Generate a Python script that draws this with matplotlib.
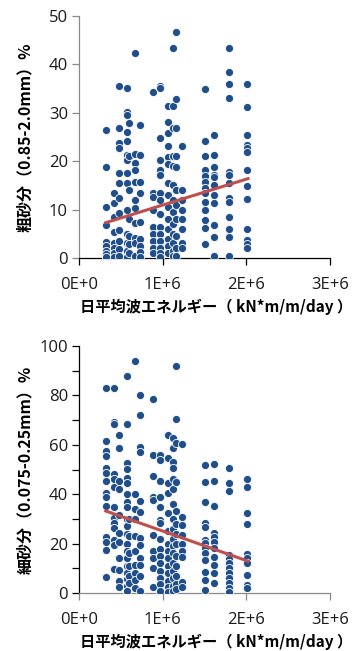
import numpy as np
import matplotlib
matplotlib.use("Agg")
import matplotlib.pyplot as plt
from matplotlib.ticker import MultipleLocator, FuncFormatter

# station positions (daily mean wave energy, kN*m/m/day)
X_COLS = [3.2e5, 4.2e5, 4.8e5, 5.7e5, 6.0e5, 6.7e5, 7.3e5, 8.8e5, 9.7e5,
          1.06e6, 1.12e6, 1.16e6, 1.23e6, 1.51e6, 1.61e6, 1.79e6, 2.01e6]

# coarse sand fraction (0.85-2.0 mm) per station
COARSE = [
    [26.4, 18.8, 10.5, 6.8, 3.3, 2.4, 1.5, 0.8, 0.3],
    [13.4, 11.4, 8.5, 5.4, 3.2, 2.0, 1.0, 0.3],
    [35.5, 26.9, 23.8, 22.7, 17.6, 15.5, 12.4, 9.3, 5.8, 3.5, 1.8, 0.5],
    [35.1, 30.2, 29.5, 26.0, 24.2, 21.3, 20.3, 17.6, 15.5, 9.9, 5.0, 3.0, 1.5, 0.2],
    [27.9, 21.0, 14.0, 8.0, 4.5, 2.8, 1.0],
    [42.4, 21.5, 19.6, 18.2, 15.7, 12.0, 10.3, 7.2, 4.1, 3.1, 0.4],
    [27.5, 21.2, 15.7, 13.4, 7.5, 4.0, 2.5, 1.2, 0.3],
    [34.3, 13.4, 12.5, 9.9, 6.4, 5.0, 3.5, 2.0, 1.0],
    [35.6, 35.1, 24.8, 20.2, 18.2, 17.1, 13.4, 12.0, 9.0, 6.5, 5.0, 3.5, 2.0, 1.0, 0.2],
    [31.4, 28.1, 25.8, 23.1, 20.9, 19.5, 15.5, 13.0, 10.5, 8.0, 6.0, 4.0, 2.5, 1.0],
    [43.4, 31.4, 26.9, 21.0, 19.0, 15.0, 12.0, 9.5, 7.0, 5.0, 3.0, 1.5, 0.4],
    [46.7, 32.9, 26.9, 21.0, 18.7, 14.0, 11.0, 8.0, 4.5, 2.0, 0.5],
    [23.1, 14.0, 12.0, 10.0, 8.0, 6.0, 3.0, 2.0],
    [34.9, 24.2, 21.1, 18.2, 17.0, 15.7, 14.5, 13.4, 11.6, 9.9, 7.9, 6.2, 2.9],
    [25.4, 21.3, 18.8, 17.1, 16.7, 15.1, 13.0, 11.4, 6.8, 4.3, 0.4],
    [43.4, 38.4, 35.9, 33.0, 17.8, 17.1, 15.5, 12.4, 11.5, 8.5, 6.0, 4.3, 0.4],
    [35.9, 31.2, 25.4, 23.3, 22.7, 21.9, 18.2, 14.9, 12.2, 6.0, 3.7, 2.9, 2.1],
]

# fine sand fraction (0.075-0.25 mm) per station
FINE = [
    [83.0, 61.6, 57.5, 55.5, 50.6, 48.6, 45.4, 40.5, 38.9, 35.2, 22.7, 20.7, 17.4, 6.5],
    [83.0, 69.3, 68.4, 48.2, 46.2, 43.0, 34.8, 30.4, 28.4, 26.3, 21.5, 19.4, 9.7],
    [64.0, 58.7, 45.4, 42.0, 31.6, 24.3, 20.7, 14.2, 9.3, 5.0, 2.4],
    [87.9, 68.4, 52.6, 50.2, 46.6, 44.5, 40.0, 37.0, 34.8, 30.0, 27.0, 24.0, 20.0,
     17.0, 14.0, 11.0, 8.0, 5.5, 3.0, 1.0],
    [30.0, 23.0, 16.0, 11.0, 7.0, 4.0],
    [94.0, 40.0, 34.0, 30.0, 23.0, 17.0, 11.3, 8.0, 5.3, 2.0],
    [80.2, 72.1, 59.1, 57.1, 37.3, 32.8, 22.3, 19.4, 14.0, 11.3, 7.0, 1.0],
    [78.6, 55.9, 47.4, 38.9, 37.7, 23.5, 17.0, 14.0, 10.0, 2.4],
    [55.9, 53.9, 45.4, 38.9, 34.8, 29.6, 28.4, 22.0, 18.0, 15.0, 12.0, 9.0, 6.0, 3.5, 1.0],
    [64.0, 54.7, 44.5, 40.5, 32.4, 25.0, 20.0, 17.0, 14.0, 11.0, 8.0, 5.0, 2.5, 0.5],
    [62.8, 58.7, 53.1, 50.6, 46.2, 42.0, 36.0, 30.0, 26.0, 22.0, 19.0, 16.0, 12.0,
     9.0, 6.0, 3.0, 1.0],
    [92.0, 70.5, 60.8, 45.0, 33.0, 28.0, 24.0, 20.0, 15.0, 11.0, 7.0, 3.5, 1.5],
    [60.3, 30.8, 27.5, 23.5, 20.0, 17.0, 14.6, 4.5, 2.4],
    [51.8, 45.0, 36.9, 28.4, 26.7, 21.5, 20.2, 18.2, 16.2, 13.4, 8.5, 5.3, 1.2],
    [52.2, 45.4, 35.2, 24.3, 22.7, 20.7, 18.2, 14.6, 11.3, 8.1, 4.0],
    [50.6, 44.5, 41.3, 15.4, 13.8, 12.2, 10.1, 8.1, 6.1, 4.0, 2.0, 0.3],
    [46.2, 42.9, 32.4, 27.9, 15.8, 14.2, 12.2, 7.3, 3.2, 2.0],
]

# linear trend end points
TREND_X = [3.2e5, 2.02e6]
COARSE_TREND = [7.3, 16.4]
FINE_TREND = [33.2, 12.9]

XLABEL = "日平均波エネルギー（ kN*m/m/day ）"
YLABEL_TOP = "粗砂分（0.85-2.0mm）%"
YLABEL_BOT = "細砂分（0.075-0.25mm）%"

DOT = "#1F4E8A"
TREND = "#C0504D"
GRAY = "#898989"
JP = ["Noto Sans CJK JP", "DejaVu Sans"]


def flatten(cols):
    xs, ys = [], []
    for x, vals in zip(X_COLS, cols):
        xs += [x] * len(vals)
        ys += vals
    return np.array(xs), np.array(ys)


def sci(v, _):
    if v == 0:
        return "0E+0"
    e = int(np.floor(np.log10(abs(v))))
    return f"{v / 10**e:.0f}E+{e}"


def panel(ax, cols, trend, ymax, major, minor, ylabel, left_col, bottom_col):
    xs, ys = flatten(cols)
    ax.scatter(xs, ys, s=34, color=DOT, edgecolor="white", linewidth=0.6, zorder=3)
    ax.plot(TREND_X, trend, color=TREND, lw=2.2, zorder=4)
    ax.set_xlim(0, 3e6)
    ax.set_ylim(0, ymax)
    ax.xaxis.set_major_locator(MultipleLocator(1e6))
    ax.xaxis.set_major_formatter(FuncFormatter(sci))
    ax.yaxis.set_major_locator(MultipleLocator(major))
    if minor:
        ax.yaxis.set_minor_locator(MultipleLocator(minor))
    for s in ("top", "right"):
        ax.spines[s].set_visible(False)
    ax.spines["left"].set_color(left_col)
    ax.spines["bottom"].set_color(bottom_col)
    for s in ("left", "bottom"):
        ax.spines[s].set_linewidth(0.9)
    ax.tick_params(axis="y", which="both", length=5, width=0.9, color=left_col, pad=3,
                   labelsize=12)
    ax.tick_params(axis="x", length=5, width=0.9, color=bottom_col, pad=9, labelsize=12)
    for lab in ax.get_xticklabels() + ax.get_yticklabels():
        lab.set_family("Open Sans")
        lab.set_color("#1a1a1a")
    ax.set_ylabel(ylabel, family=JP, fontsize=11.5, fontweight="bold", va="center")
    ax.yaxis.set_label_coords(-0.215, 0.5)
    ax.set_xlabel(XLABEL, family=JP, fontsize=11, fontweight="bold", va="center")


fig = plt.figure(figsize=(3.55, 6.51), dpi=100)
ax1 = fig.add_axes([0.2225, 0.6037, 0.7071, 0.3717])
ax2 = fig.add_axes([0.2225, 0.0891, 0.7071, 0.3794])

panel(ax1, COARSE, COARSE_TREND, 50, 10, None, YLABEL_TOP, GRAY, "black")
ax1.xaxis.set_label_coords(0.546, -0.2)
panel(ax2, FINE, FINE_TREND, 100, 20, 10, YLABEL_BOT, "black", GRAY)
ax2.xaxis.set_label_coords(0.546, -0.196)

fig.savefig("out.png", dpi=100)
